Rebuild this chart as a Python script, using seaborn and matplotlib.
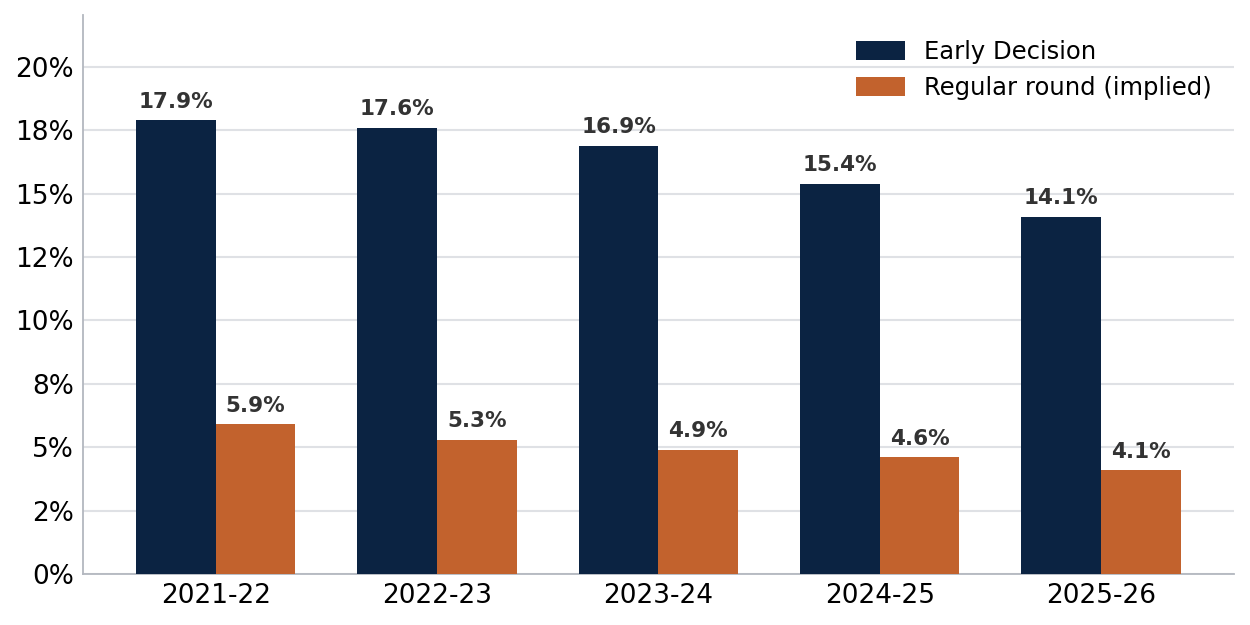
import matplotlib
matplotlib.use("Agg")
import matplotlib.pyplot as plt
from matplotlib.ticker import MultipleLocator, FuncFormatter
import pandas as pd
import seaborn as sns

seasons = ["2021-22", "2022-23", "2023-24", "2024-25", "2025-26"]
early_decision = [17.9, 17.6, 16.9, 15.4, 14.1]
regular_round = [5.9, 5.3, 4.9, 4.6, 4.1]
series_names = ["Early Decision", "Regular round (implied)"]

df = pd.DataFrame({
    "season": seasons * 2,
    "rate": early_decision + regular_round,
    "round": [series_names[0]] * len(seasons) + [series_names[1]] * len(seasons),
})

sns.set_theme(style="white")
plt.rcParams["font.family"] = ["DejaVu Sans"]

fig = plt.figure(figsize=(12.5, 6.25), dpi=100)
ax = fig.add_axes([0.0664, 0.0816, 0.9206, 0.8944])

sns.barplot(
    data=df, x="season", y="rate", hue="round",
    palette=["#0b2342", "#c2622d"], width=0.72, gap=0,
    saturation=1, linewidth=0, ax=ax, zorder=3,
)

for cont in ax.containers:
    ax.bar_label(cont, fmt="%.1f%%", padding=6, fontsize=15.5,
                 fontweight="bold", color="#333333")

ax.set_xlim(-0.6, 4.6)
ax.set_ylim(0, 22.05)
ax.yaxis.set_major_locator(MultipleLocator(2.5))
ax.yaxis.set_major_formatter(FuncFormatter(lambda v, p: f"{round(v):.0f}%"))
ax.grid(axis="y", color="#dfe1e5", linewidth=1.5, zorder=0)
ax.set_axisbelow(True)
ax.set_xlabel("")
ax.set_ylabel("")
ax.tick_params(axis="both", length=0, labelsize=19, colors="black")
ax.tick_params(axis="y", pad=6.5)
ax.tick_params(axis="x", pad=6.5)

for side in ["top", "right"]:
    ax.spines[side].set_visible(False)
for side in ["left", "bottom"]:
    ax.spines[side].set_color("#b3b7bf")
    ax.spines[side].set_linewidth(1.3)

leg = ax.legend(loc="upper right", frameon=False, fontsize=17.5,
                bbox_to_anchor=(1.0, 0.995), handlelength=2.0, handleheight=0.8,
                handletextpad=0.8)
for t in leg.get_texts():
    t.set_color("black")

fig.savefig("out.png", dpi=100)
